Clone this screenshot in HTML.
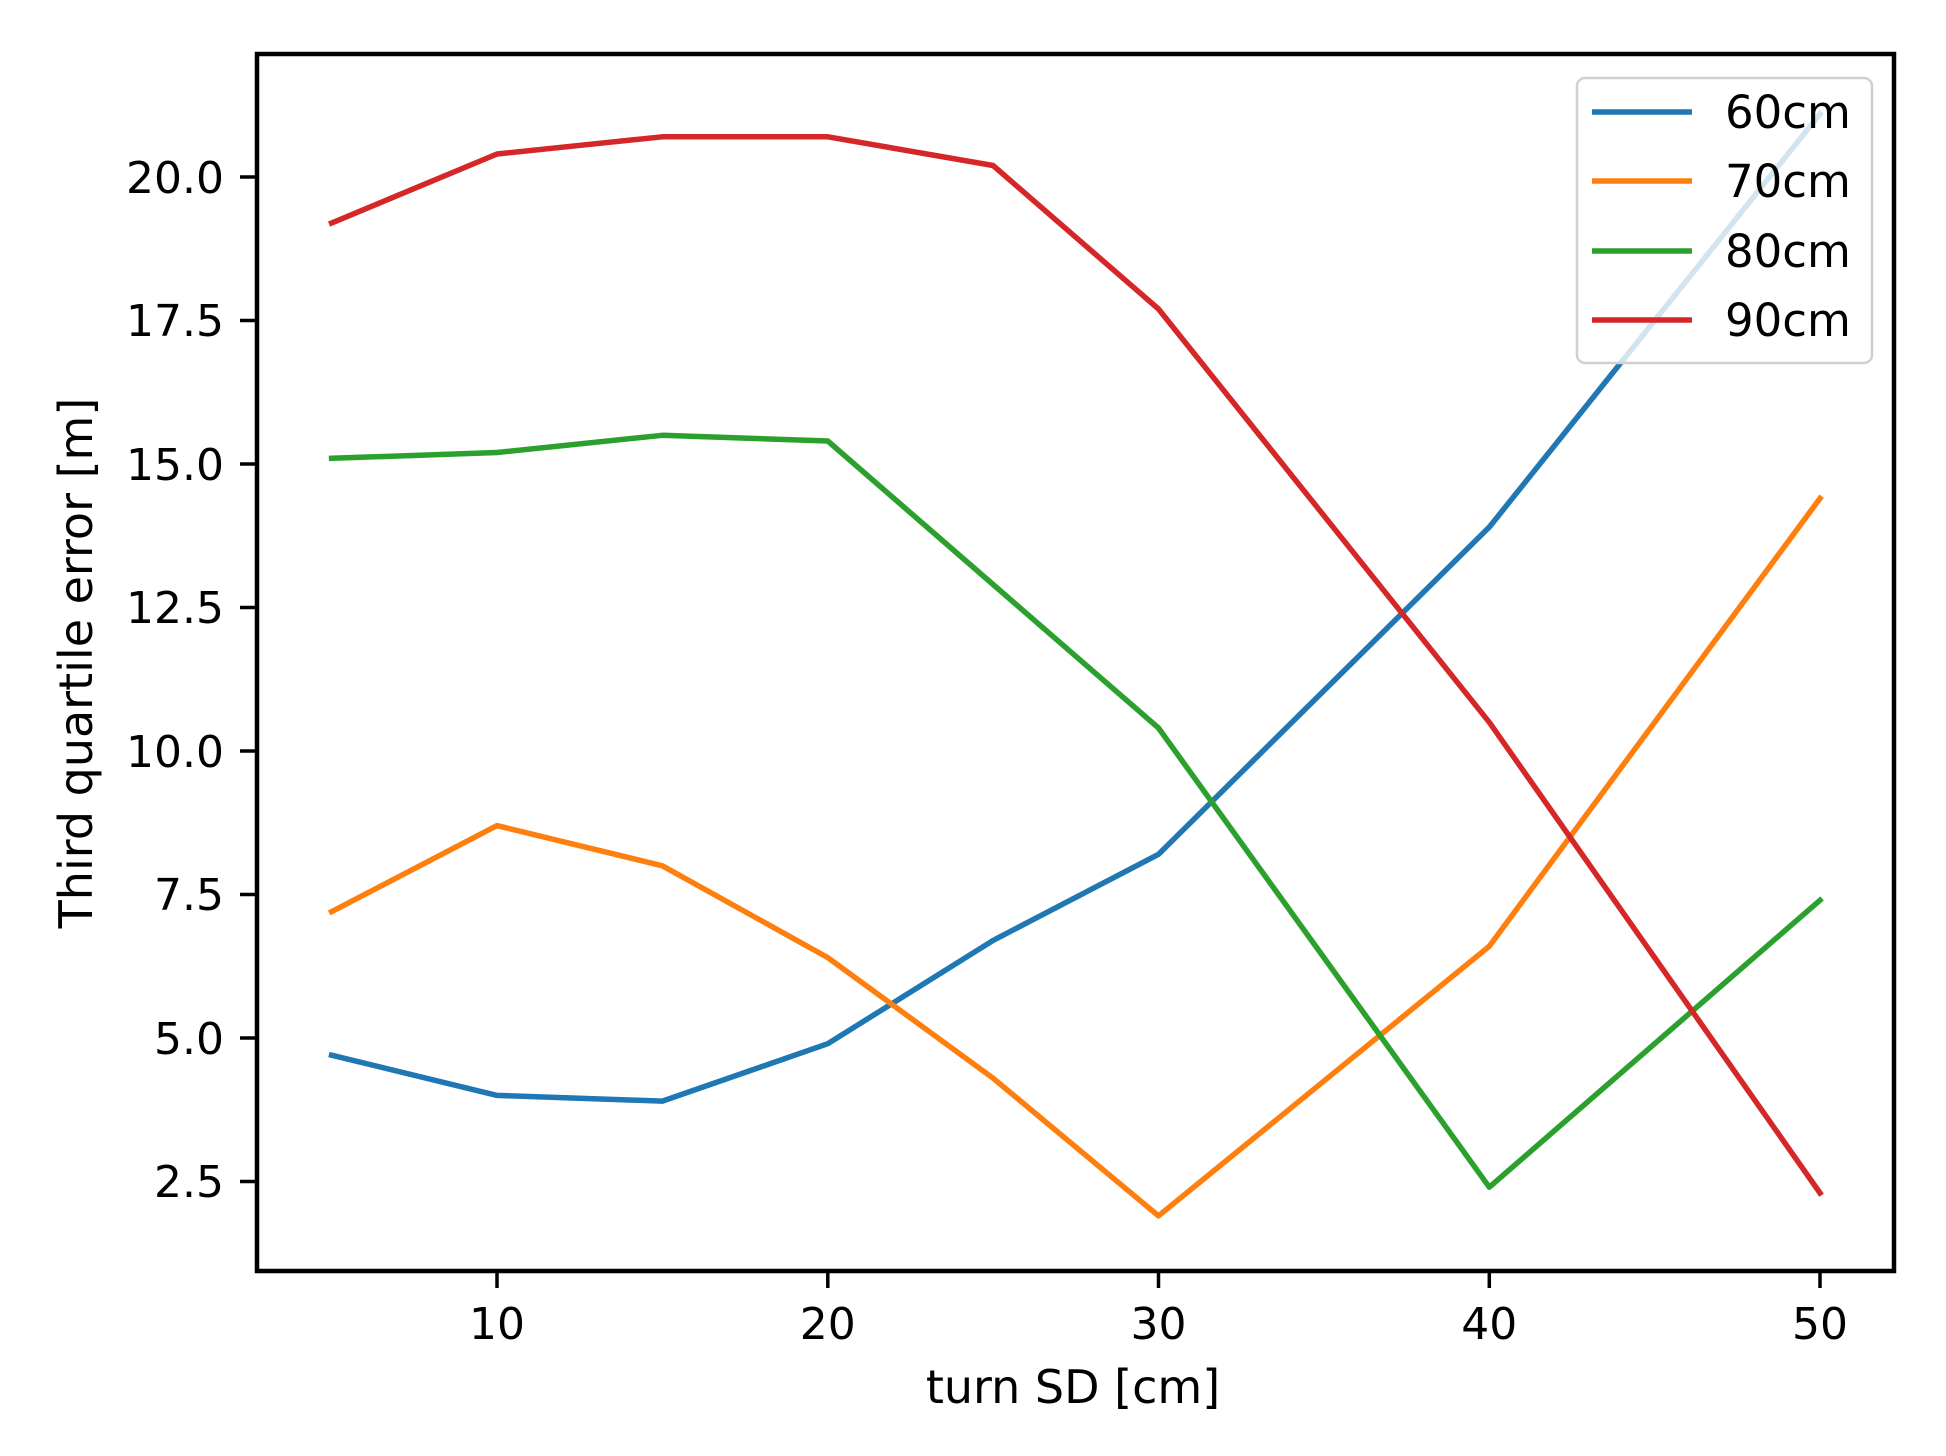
<!DOCTYPE html>
<html><head><meta charset="utf-8"><style>html,body{margin:0;padding:0;background:#fff}</style></head>
<body>
<svg width="1946" height="1451" viewBox="0 0 1946 1451" xmlns="http://www.w3.org/2000/svg" font-family="DejaVu Sans, Liberation Sans, sans-serif" fill="#000">
<rect width="1946" height="1451" fill="#fff"/>
<g fill="none" stroke-width="5.5" stroke-linejoin="round" stroke-linecap="square">
<polyline stroke="#1f77b4" points="331.6,1055.2 497,1095.4 662.4,1101.1 827.8,1043.7 993.1,940.4 1158.5,854.3 1489.3,527.1 1820,113.9"/>
<polyline stroke="#ff7f0e" points="331.6,911.7 497,825.6 662.4,865.8 827.8,957.6 993.1,1078.2 1158.5,1215.9 1489.3,946.2 1820,498.4"/>
<polyline stroke="#2ca02c" points="331.6,458.3 497,452.5 662.4,435.3 827.8,441 993.1,584.5 1158.5,728 1489.3,1187.2 1820,900.2"/>
<polyline stroke="#d62728" points="331.6,223 497,154 662.4,136.8 827.8,136.8 993.1,165.5 1158.5,309 1489.3,722.3 1820,1193"/>
</g>
<rect x="257" y="54" width="1637" height="1217" fill="none" stroke="#000" stroke-width="4.5"/>
<g stroke="#000" stroke-width="3.5">
<line x1="497" y1="1271" x2="497" y2="1288"/><line x1="827.8" y1="1271" x2="827.8" y2="1288"/><line x1="1158.5" y1="1271" x2="1158.5" y2="1288"/><line x1="1489.3" y1="1271" x2="1489.3" y2="1288"/><line x1="1820" y1="1271" x2="1820" y2="1288"/>
<line x1="240" y1="1181.5" x2="257" y2="1181.5"/><line x1="240" y1="1038" x2="257" y2="1038"/><line x1="240" y1="894.5" x2="257" y2="894.5"/><line x1="240" y1="751" x2="257" y2="751"/><line x1="240" y1="607.5" x2="257" y2="607.5"/><line x1="240" y1="464" x2="257" y2="464"/><line x1="240" y1="320.5" x2="257" y2="320.5"/><line x1="240" y1="177" x2="257" y2="177"/>
</g>
<g font-size="44" text-anchor="middle">
<text x="497" y="1339">10</text><text x="827.8" y="1339">20</text><text x="1158.5" y="1339">30</text><text x="1489.3" y="1339">40</text><text x="1820" y="1339">50</text>
</g>
<g font-size="44" text-anchor="end">
<text x="224" y="1197">2.5</text><text x="224" y="1054">5.0</text><text x="224" y="910">7.5</text><text x="224" y="767">10.0</text><text x="224" y="623">12.5</text><text x="224" y="480">15.0</text><text x="224" y="336">17.5</text><text x="224" y="193">20.0</text>
</g>
<text x="1073" y="1403" font-size="46" text-anchor="middle">turn SD [cm]</text>
<text transform="translate(92,663) rotate(-90)" font-size="46" text-anchor="middle">Third quartile error [m]</text>
<rect x="1577" y="78" width="295" height="285" rx="8" fill="#fff" fill-opacity="0.8" stroke="#d0d0d0" stroke-width="2.5"/>
<g stroke-width="5.5">
<line x1="1592" y1="112" x2="1692" y2="112" stroke="#1f77b4"/>
<line x1="1592" y1="181" x2="1692" y2="181" stroke="#ff7f0e"/>
<line x1="1592" y1="251" x2="1692" y2="251" stroke="#2ca02c"/>
<line x1="1592" y1="320" x2="1692" y2="320" stroke="#d62728"/>
</g>
<g font-size="45">
<text x="1725" y="128">60cm</text><text x="1725" y="197">70cm</text><text x="1725" y="267">80cm</text><text x="1725" y="336">90cm</text>
</g>
</svg>
</body></html>
